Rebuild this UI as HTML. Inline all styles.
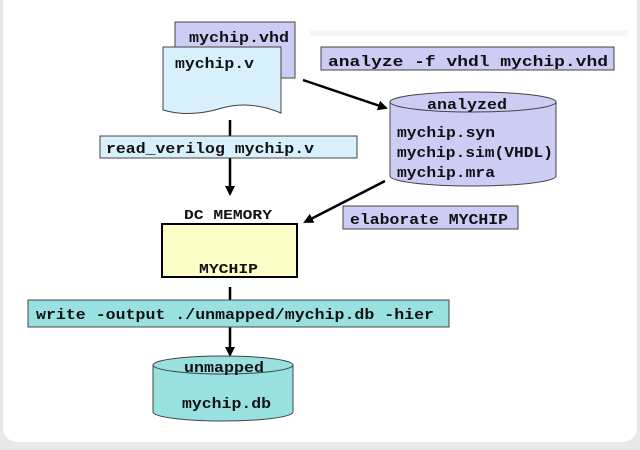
<!DOCTYPE html>
<html><head><style>
body{margin:0;width:640px;height:450px;background:#e8e8e8;overflow:hidden}
svg{display:block}
text{font-family:"Liberation Mono",monospace;font-weight:bold;font-size:15px;fill:#111}
</style></head><body>
<svg width="640" height="450" viewBox="0 0 640 450">
<defs><marker id="a" markerWidth="10" markerHeight="10" refX="8" refY="5" orient="auto" markerUnits="userSpaceOnUse"><path d="M0,0 L10,5 L0,10 z" fill="#000"/></marker></defs>
<rect x="3" y="-10" width="634" height="452" rx="14" fill="#fff"/>
<rect x="310" y="30" width="318" height="6" fill="#f6f6f6"/>
<rect x="175" y="22" width="120" height="56" fill="#ccccf5" stroke="#444"/>
<text x="189" y="42" textLength="100" lengthAdjust="spacingAndGlyphs">mychip.vhd</text>
<path d="M163,47 H281 V113 Q250,100 222,108 Q190,118 163,110 Z" fill="#d8f0fb" stroke="#444"/>
<text x="175" y="68" textLength="79" lengthAdjust="spacingAndGlyphs">mychip.v</text>
<rect x="321" y="47" width="293" height="23" fill="#ccccf5" stroke="#444"/>
<text x="328" y="66" textLength="280" lengthAdjust="spacingAndGlyphs">analyze -f vhdl mychip.vhd</text>
<line x1="303" y1="80" x2="386" y2="108" stroke="#000" stroke-width="2.5" marker-end="url(#a)"/>
<path d="M390,102 V176 A83,10 0 0 0 556,176 V102" fill="#ccccf5" stroke="#444"/>
<ellipse cx="473" cy="102" rx="83" ry="10" fill="#ccccf5" stroke="#444"/>
<text x="427" y="109" textLength="80" lengthAdjust="spacingAndGlyphs">analyzed</text>
<text x="397" y="137" textLength="98" lengthAdjust="spacingAndGlyphs">mychip.syn</text>
<text x="397" y="157" textLength="156" lengthAdjust="spacingAndGlyphs">mychip.sim(VHDL)</text>
<text x="397" y="177" textLength="98" lengthAdjust="spacingAndGlyphs">mychip.mra</text>
<line x1="230" y1="120" x2="230" y2="194" stroke="#000" stroke-width="2.5" marker-end="url(#a)"/>
<rect x="100" y="136" width="257" height="22" fill="#d8f0fb" stroke="#444"/>
<text x="106" y="153" textLength="208" lengthAdjust="spacingAndGlyphs">read_verilog mychip.v</text>
<text x="184" y="219" style="font-size:14px" textLength="88" lengthAdjust="spacingAndGlyphs">DC MEMORY</text>
<line x1="385" y1="181" x2="305" y2="222" stroke="#000" stroke-width="2.5" marker-end="url(#a)"/>
<rect x="343" y="206" width="175" height="23" fill="#ccccf5" stroke="#444"/>
<text x="350" y="224" textLength="158" lengthAdjust="spacingAndGlyphs">elaborate MYCHIP</text>
<rect x="162" y="224" width="135" height="53" fill="#fdfdc8" stroke="#000" stroke-width="2"/>
<text x="199" y="273" style="font-size:14px" textLength="59" lengthAdjust="spacingAndGlyphs">MYCHIP</text>
<line x1="230" y1="287" x2="230" y2="355" stroke="#000" stroke-width="2.5" marker-end="url(#a)"/>
<rect x="28" y="300" width="421" height="27" fill="#99e0e0" stroke="#444"/>
<text x="36" y="319" textLength="398" lengthAdjust="spacingAndGlyphs">write -output ./unmapped/mychip.db -hier</text>
<path d="M153,365 V412 A70,9 0 0 0 293,412 V365" fill="#99e0e0" stroke="#444"/>
<ellipse cx="223" cy="365" rx="70" ry="9" fill="#99e0e0" stroke="#444"/>
<text x="184" y="372" textLength="80" lengthAdjust="spacingAndGlyphs">unmapped</text>
<text x="182" y="408" textLength="89" lengthAdjust="spacingAndGlyphs">mychip.db</text>
</svg>
</body></html>
